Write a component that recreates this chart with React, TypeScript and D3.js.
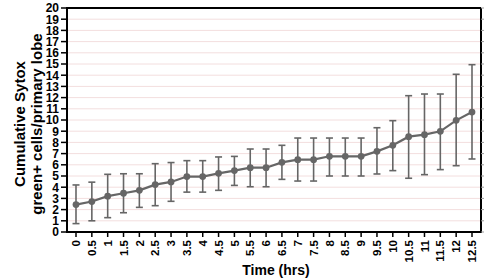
import React from "react";
import * as d3 from "d3";

const times = [0, 0.5, 1, 1.5, 2, 2.5, 3, 3.5, 4, 4.5, 5, 5.5, 6, 6.5, 7, 7.5, 8, 8.5, 9, 9.5, 10, 10.5, 11, 11.5, 12, 12.5];
const timeLabels = ["0", "0.5", "1", "1.5", "2", "2.5", "3", "3.5", "4", "4.5", "5", "5.5", "6", "6.5", "7", "7.5", "8", "8.5", "9", "9.5", "10", "10.5", "11", "11.5", "12", "12.5"];
const means = [2.45, 2.72, 3.2, 3.46, 3.72, 4.23, 4.47, 4.95, 4.95, 5.24, 5.48, 5.74, 5.74, 6.22, 6.46, 6.46, 6.76, 6.76, 6.76, 7.2, 7.74, 8.51, 8.69, 8.99, 9.97, 10.71];
const upper = [4.2, 4.45, 5.15, 5.2, 5.2, 6.1, 6.2, 6.37, 6.37, 6.7, 6.75, 7.41, 7.41, 7.74, 8.39, 8.39, 8.39, 8.39, 8.39, 9.31, 9.94, 12.17, 12.32, 12.32, 14.08, 14.94];
const lower = [0.75, 1.0, 1.28, 1.72, 2.2, 2.35, 2.74, 3.56, 3.56, 3.72, 4.16, 4.04, 4.04, 4.7, 4.55, 4.55, 5.0, 5.0, 5.0, 5.18, 5.48, 4.8, 5.12, 5.57, 5.92, 6.52];
const yTicks = d3.range(0, 21);

export default function App() {
  const W = 488, H = 280;
  const left = 67, right = 481, top = 8, bottom = 232;
  const x = d3.scaleLinear().domain([0, 12.5]).range([76, 472]);
  const y = d3.scaleLinear().domain([0, 20]).range([bottom, top]);
  const font = "'Liberation Sans', Arial, sans-serif";
  const lineColor = "#666666";
  const line = d3.line<number>().x((_, i) => x(times[i])).y((d) => y(d));
  const midY = 124;

  return (
    <svg width={W} height={H} style={{ position: "absolute", left: 0, top: 0, background: "#fff" }}>
      {yTicks.slice(1).map((t) => (
        <line key={"g" + t} x1={left} x2={right} y1={y(t)} y2={y(t)} stroke="#f3dede" strokeWidth={1} />
      ))}
      <line x1={left} x2={right} y1={top} y2={top} stroke="#000" strokeWidth={2} />
      <line x1={right} x2={right} y1={top} y2={bottom} stroke="#000" strokeWidth={2} />
      <line x1={left} x2={left} y1={top - 1} y2={bottom + 1} stroke="#000" strokeWidth={2} />
      <line x1={left} x2={right + 1} y1={bottom} y2={bottom} stroke="#000" strokeWidth={2} />
      {yTicks.map((t) => (
        <g key={"y" + t}>
          <line x1={left - 6} x2={left} y1={y(t)} y2={y(t)} stroke="#000" strokeWidth={1.5} />
          <line x1={right} x2={right + 3} y1={y(t)} y2={y(t)} stroke="#999" strokeWidth={1} />
          <text x={left - 8} y={y(t)} dy="0.36em" textAnchor="end" fontFamily={font} fontWeight="bold" fontSize={12}>
            {t}
          </text>
        </g>
      ))}
      {times.map((t, i) => (
        <g key={"x" + t}>
          <line x1={x(t)} x2={x(t)} y1={bottom} y2={bottom + 5} stroke="#000" strokeWidth={1.5} />
          <text transform={`translate(${x(t)},${bottom + 8}) rotate(-90)`} dy="0.36em" textAnchor="end" fontFamily={font} fontWeight="bold" fontSize={11.5}>
            {timeLabels[i]}
          </text>
        </g>
      ))}
      {times.map((t, i) => (
        <g key={"e" + t} stroke={lineColor} strokeWidth={1.6}>
          <line x1={x(t)} x2={x(t)} y1={y(lower[i])} y2={y(upper[i])} />
          <line x1={x(t) - 3.5} x2={x(t) + 3.5} y1={y(lower[i])} y2={y(lower[i])} />
          <line x1={x(t) - 3.5} x2={x(t) + 3.5} y1={y(upper[i])} y2={y(upper[i])} />
        </g>
      ))}
      <path d={line(means) || ""} fill="none" stroke={lineColor} strokeWidth={2.2} />
      {times.map((t, i) => (
        <circle key={"c" + t} cx={x(t)} cy={y(means[i])} r={3.4} fill={lineColor} />
      ))}
      <text transform={`translate(25,${midY}) rotate(-90)`} textAnchor="middle" fontFamily={font} fontWeight="bold" fontSize={15}>
        Cumulative Sytox
      </text>
      <text transform={`translate(42,${midY}) rotate(-90)`} textAnchor="middle" fontFamily={font} fontWeight="bold" fontSize={15}>
        green+ cells/primary lobe
      </text>
      <text x={276} y={275} textAnchor="middle" fontFamily={font} fontWeight="bold" fontSize={14}>
        Time (hrs)
      </text>
    </svg>
  );
}
